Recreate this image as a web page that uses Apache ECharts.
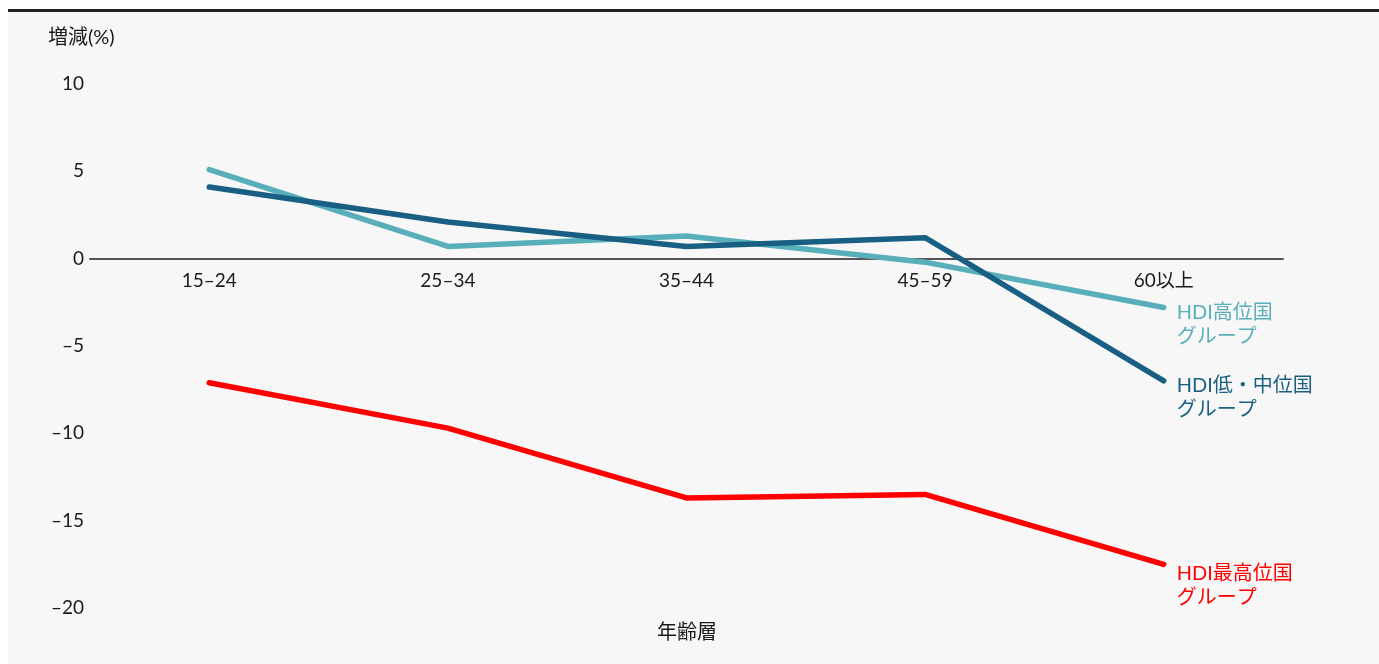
<!DOCTYPE html>
<html>
<head>
<meta charset="utf-8">
<script src="https://cdn.jsdelivr.net/npm/echarts@6/dist/echarts.min.js"></script>
<style>
  html, body { margin: 0; padding: 0; background: #ffffff; }
  #frame { position: absolute; left: 8px; top: 9px; width: 1371px; height: 655px; background: #f7f7f7; border-top: 3px solid #222222; box-sizing: border-box; }
  #chart { position: absolute; left: 0; top: 0; width: 1379px; height: 664px; }
</style>
</head>
<body>
<div id="frame"></div>
<div id="chart"></div>
<script>
// Age groups along the horizontal axis
const ageGroups = ['15–24', '25–34', '35–44', '45–59', '60以上'];

// Change (%) per age group for each HDI group
const hdiHigh = [5.1, 0.7, 1.3, -0.2, -2.8];
const hdiLowMid = [4.1, 2.1, 0.7, 1.2, -7.0];
const hdiVeryHigh = [-7.1, -9.7, -13.7, -13.5, -17.5];

const seriesNames = ['HDI高位国\nグループ', 'HDI低・中位国\nグループ', 'HDI最高位国\nグループ'];

const yTicks = { min: -20, max: 10, interval: 5 };

const FONT = 'Lato, "Noto Sans CJK JP", sans-serif';

// Plot area
const GRID = { left: 90, right: 96, top: 84, bottom: 56 };
const plotHeight = 664 - GRID.top - GRID.bottom;
// Shift the category axis up so it sits on the zero line, labels included
const zeroOffset = -plotHeight * (0 - yTicks.min) / (yTicks.max - yTicks.min);

function lineSeries(name, data, color, dy) {
  return {
    name: name,
    type: 'line',
    data: data,
    symbol: 'none',
    lineStyle: { color: color, width: 5.5, cap: 'round', join: 'round' },
    itemStyle: { color: color },
    endLabel: {
      show: true,
      formatter: name,
      color: color,
      fontFamily: FONT,
      fontSize: 20,
      lineHeight: 24,
      align: 'left',
      verticalAlign: 'top',
      distance: 13,
      offset: [0, dy]
    },
    z: 3
  };
}

const chart = echarts.init(document.getElementById('chart'), null, { renderer: 'canvas' });
chart.setOption({
  animation: false,
  backgroundColor: 'transparent',
  grid: Object.assign({ containLabel: false }, GRID),
  xAxis: {
    type: 'category',
    data: ageGroups,
    boundaryGap: true,
    position: 'bottom',
    offset: zeroOffset,
    axisLine: { onZero: false, lineStyle: { color: '#555555', width: 2 } },
    axisTick: { show: false },
    axisLabel: { color: '#1a1a1a', fontFamily: FONT, fontSize: 19, margin: 13 },
    splitLine: { show: false },
    z: 1
  },
  yAxis: {
    type: 'value',
    min: yTicks.min,
    max: yTicks.max,
    interval: yTicks.interval,
    axisLine: { show: false },
    axisTick: { show: false },
    splitLine: { show: false },
    axisLabel: {
      color: '#1a1a1a',
      fontFamily: FONT,
      fontSize: 19,
      margin: 6,
      formatter: v => (v < 0 ? '–' + Math.abs(v) : String(v))
    }
  },
  graphic: [
    { type: 'text', left: 48, top: 28, style: { text: '増減(%)', fill: '#1a1a1a', font: '20px ' + FONT } },
    { type: 'text', left: 657, top: 623, style: { text: '年齢層', fill: '#1a1a1a', font: '20px ' + FONT } }
  ],
  series: [
    lineSeries(seriesNames[0], hdiHigh, '#58afba', -7),
    lineSeries(seriesNames[1], hdiLowMid, '#185f83', -7),
    lineSeries(seriesNames[2], hdiVeryHigh, '#ff0000', -3)
  ]
});
</script>
</body>
</html>
